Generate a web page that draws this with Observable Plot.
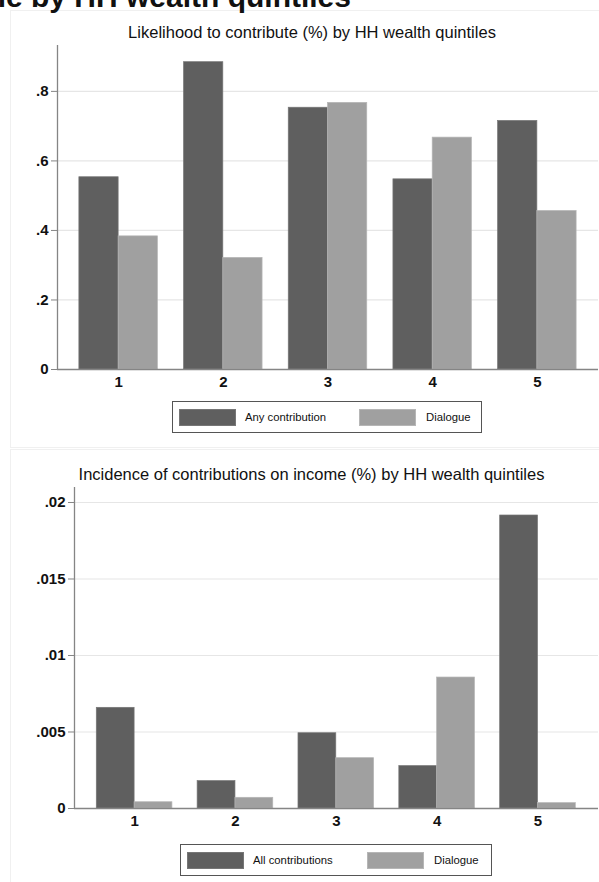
<!DOCTYPE html>
<html><head><meta charset="utf-8">
<script src="https://cdn.jsdelivr.net/npm/d3@7"></script>
<script src="https://cdn.jsdelivr.net/npm/@observablehq/plot@0.6"></script>
<style>
body{margin:0;background:#fff;font-family:"Liberation Sans",Arial,Helvetica,sans-serif;}
#page{position:relative;width:599px;height:882px;overflow:hidden;background:#fff;}
.panel{position:absolute;border:1px solid #f0f0f0;box-sizing:border-box;}
.chart{position:absolute;left:0;}
.title{position:absolute;white-space:nowrap;color:#111;line-height:1;}
.legend{position:absolute;border:1px solid #555;background:#fff;box-sizing:border-box;}
.sw{position:absolute;width:57px;height:17px;box-sizing:border-box;}
.lt{position:absolute;font-size:11.3px;color:#111;line-height:17px;white-space:nowrap;}
</style></head><body><div id="page"></div>
<script>
// ---- data ----
const quintiles = [1, 2, 3, 4, 5];
const quintileLabels = ["1", "2", "3", "4", "5"];

const seriesTop = ["Any contribution", "Dialogue"];
const likelihoodAny = [0.553, 0.884, 0.753, 0.547, 0.715];
const likelihoodDialogue = [0.383, 0.321, 0.767, 0.667, 0.456];
const yTicksTop = [0, 0.2, 0.4, 0.6, 0.8];
const yTickLabelsTop = ["0", ".2", ".4", ".6", ".8"];

const seriesBottom = ["All contributions", "Dialogue"];
const incidenceAll = [0.00658, 0.00179, 0.00492, 0.00277, 0.01915];
const incidenceDialogue = [0.00041, 0.0007, 0.00329, 0.00856, 0.00035];
const yTicksBottom = [0, 0.005, 0.01, 0.015, 0.02];
const yTickLabelsBottom = ["0", ".005", ".01", ".015", ".02"];

const mainTitle = "ne by HH wealth quintiles";
const titleTop = "Likelihood to contribute (%) by HH wealth quintiles";
const titleBottom = "Incidence of contributions on income (%) by HH wealth quintiles";

// ---- styles ----
const DARK = "#5f5f5f", LIGHT = "#a0a0a0";
const DARK_EDGE = "#767676", LIGHT_EDGE = "#b6b6b6";
const FONT = "'Liberation Sans', Arial, Helvetica, sans-serif";
const BAR_W = 0.375;

const page = document.getElementById("page");

function panel(top, height) {
  const d = document.createElement("div");
  d.className = "panel";
  d.style.left = "10px"; d.style.top = top + "px";
  d.style.width = "700px"; d.style.height = height + "px";
  page.appendChild(d);
}
panel(10, 438);
panel(449, 500);

function chart({a, b, yTicks, yLabels, yMax, xDomain, marginLeft, top, height, marginTop, marginBottom}) {
  const rows = quintiles.map((q, i) => ({q, a: a[i], b: b[i]}));
  const p = Plot.plot({
    width: 599, height,
    marginLeft, marginRight: 1, marginTop, marginBottom,
    style: {fontFamily: FONT, fontSize: "15px", background: "transparent", overflow: "visible", color: "#111"},
    x: {type: "linear", domain: xDomain},
    y: {domain: [0, yMax]},
    marks: [
      Plot.gridY(yTicks, {stroke: "#e6e6e6", strokeOpacity: 1, strokeWidth: 1.2}),
      Plot.rect(rows, {x1: d => d.q - BAR_W, x2: d => d.q, y1: 0, y2: "a", fill: DARK, stroke: DARK_EDGE, strokeWidth: 0.7}),
      Plot.rect(rows, {x1: d => d.q, x2: d => d.q + BAR_W, y1: 0, y2: "b", fill: LIGHT, stroke: LIGHT_EDGE, strokeWidth: 0.7}),
      Plot.ruleY([0], {stroke: "#858585", strokeWidth: 1.3}),
      Plot.ruleX([xDomain[0]], {stroke: "#858585", strokeWidth: 1.3}),
      Plot.axisY(yTicks, {tickSize: 6, tickPadding: 3, stroke: "#858585", fill: "#111", fontSize: 15, fontWeight: "bold",
        tickFormat: d => yLabels[yTicks.indexOf(d)]}),
      Plot.axisX(quintiles, {tickSize: 0, tickPadding: 7, fill: "#111", fontSize: 15, fontWeight: "bold",
        tickFormat: d => quintileLabels[quintiles.indexOf(d)]})
    ]
  });
  const wrap = document.createElement("div");
  wrap.className = "chart";
  wrap.style.top = top + "px";
  wrap.appendChild(p);
  page.appendChild(wrap);
}

chart({a: likelihoodAny, b: likelihoodDialogue, yTicks: yTicksTop, yLabels: yTickLabelsTop,
  yMax: 0.932, xDomain: [0.416, 5.584], marginLeft: 57, top: 0, height: 400, marginTop: 45, marginBottom: 31});
chart({a: incidenceAll, b: incidenceDialogue, yTicks: yTicksBottom, yLabels: yTickLabelsBottom,
  yMax: 0.02098, xDomain: [0.404, 5.6], marginLeft: 74, top: 450, height: 400, marginTop: 37, marginBottom: 42});

function title(text, opts) {
  const d = document.createElement("div");
  d.className = "title";
  d.textContent = text;
  Object.assign(d.style, opts);
  page.appendChild(d);
  return d;
}
title(mainTitle, {right: (599 - 351) + "px", top: "-18px", fontSize: "30px", fontWeight: "bold"});
title(titleTop, {left: "312px", top: "24px", fontSize: "16.5px", transform: "translateX(-50%)"});
title(titleBottom, {left: "311.5px", top: "466px", fontSize: "16.5px", transform: "translateX(-50%)"});

function legend(series, {left, top, width}) {
  const box = document.createElement("div");
  box.className = "legend";
  Object.assign(box.style, {left: left + "px", top: top + "px", width: width + "px", height: "32px"});
  const fills = [[DARK, DARK_EDGE], [LIGHT, LIGHT_EDGE]];
  const swX = [6, 186], txX = [72, 253];
  series.forEach((s, i) => {
    const sw = document.createElement("div");
    sw.className = "sw";
    Object.assign(sw.style, {left: swX[i] + "px", top: "7px", background: fills[i][0], border: "0.7px solid " + fills[i][1]});
    const t = document.createElement("div");
    t.className = "lt";
    t.textContent = s;
    Object.assign(t.style, {left: txX[i] + "px", top: "7px"});
    box.appendChild(sw); box.appendChild(t);
  });
  page.appendChild(box);
}
legend(seriesTop, {left: 172, top: 401, width: 310});
legend(seriesBottom, {left: 180, top: 844, width: 312});
</script>
</body></html>
